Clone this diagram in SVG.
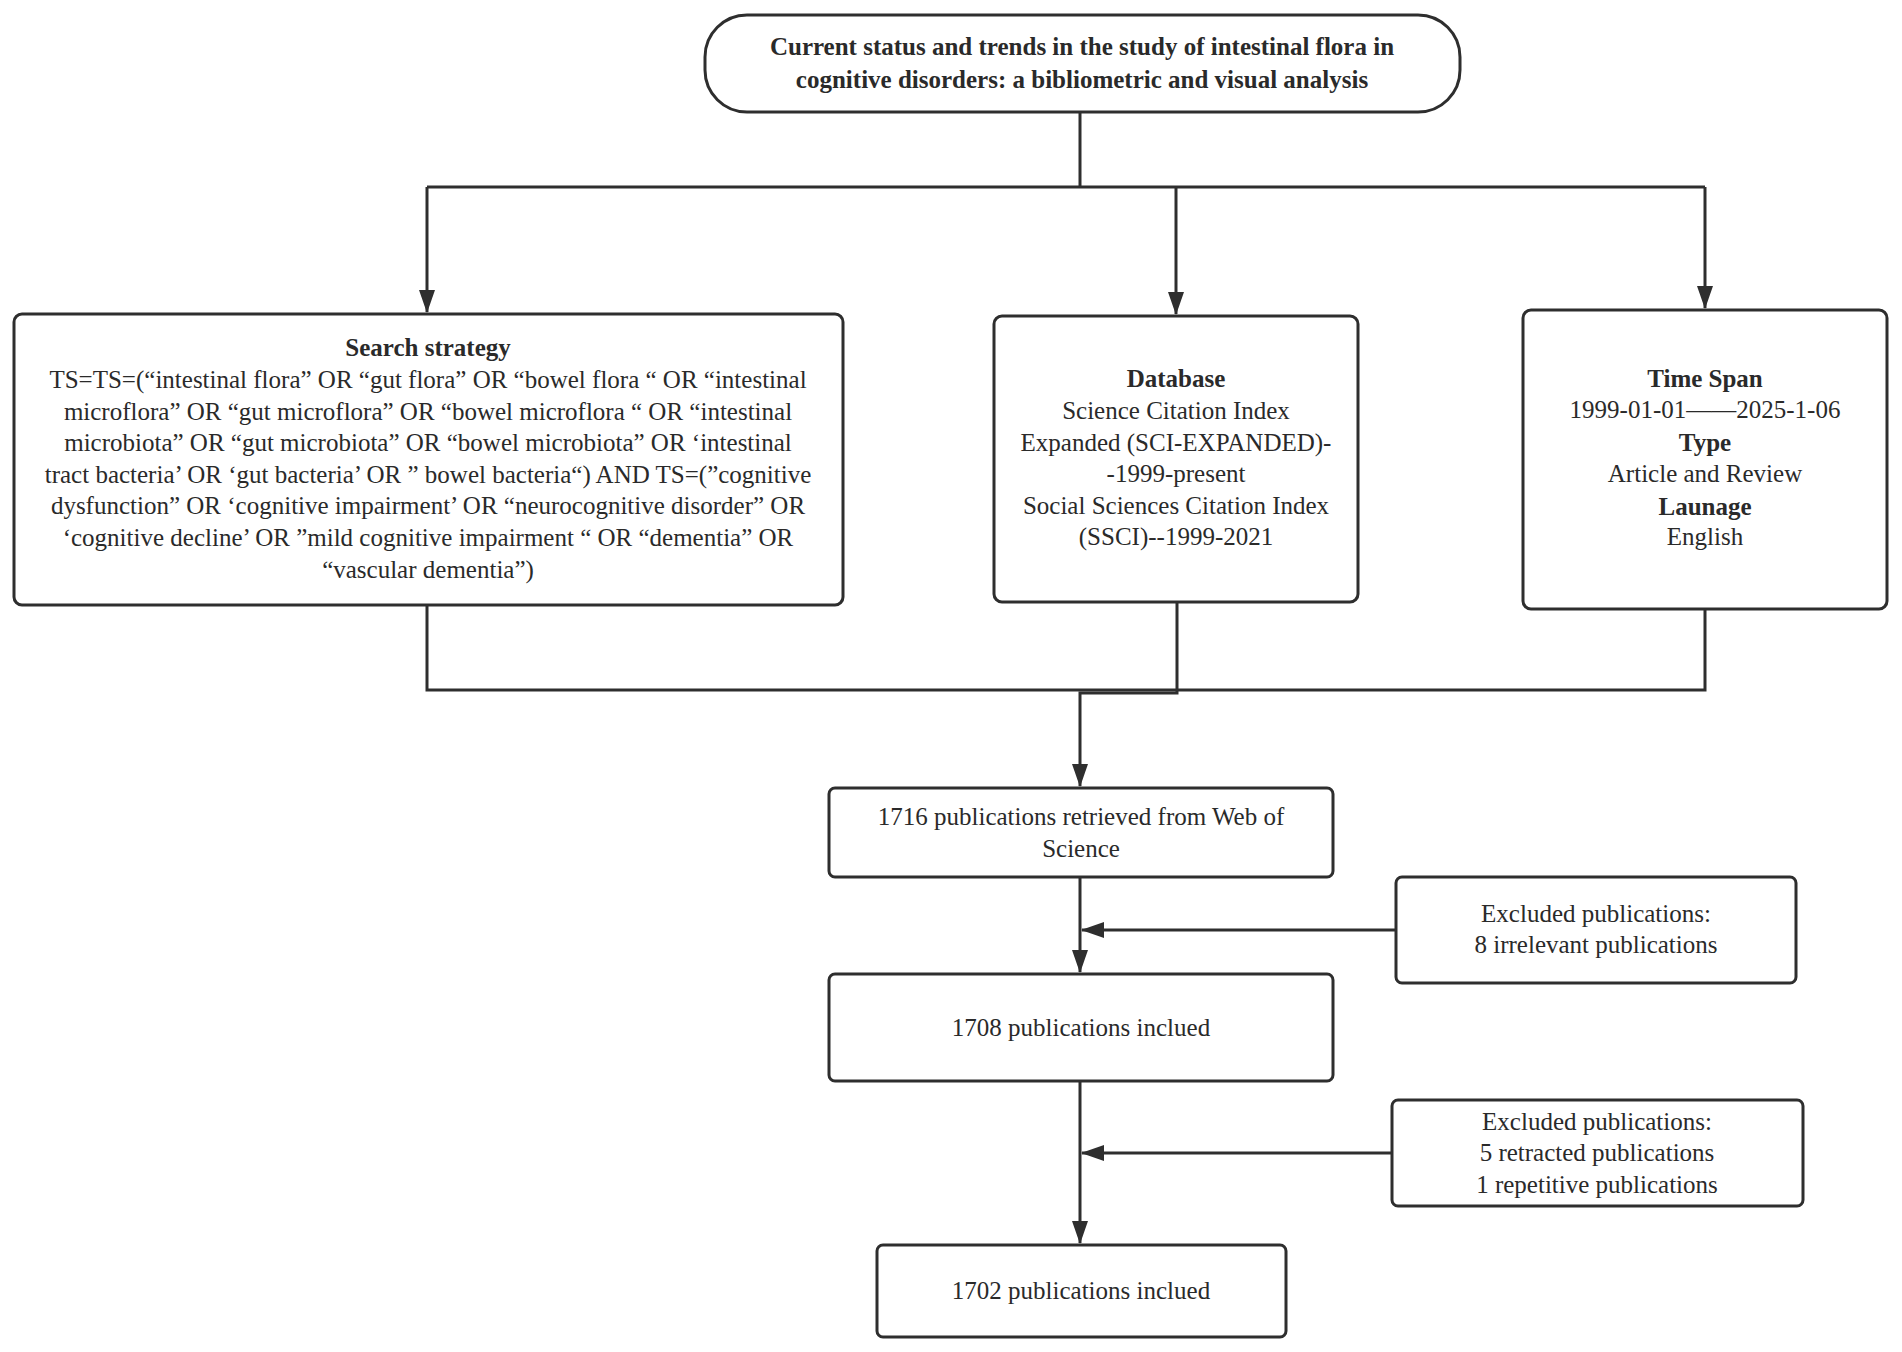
<svg xmlns="http://www.w3.org/2000/svg" width="1902" height="1352" viewBox="0 0 1902 1352">
<defs>
<marker id="arr" markerUnits="userSpaceOnUse" markerWidth="24" markerHeight="18" refX="22" refY="8" orient="auto">
<path d="M0,0 L23,8 L0,16 Z" fill="#2e2e2e"/>
</marker>
<style>
.box{fill:#fff;stroke:#2e2e2e;stroke-width:3}
.ln{fill:none;stroke:#2e2e2e;stroke-width:3}
.t{font-family:"Liberation Serif","Times New Roman",serif;font-size:25px;fill:#2a2a2a;text-anchor:middle}
.b{font-weight:bold}
</style>
</defs>
<rect width="1902" height="1352" fill="#fff"/>
<g id="connectors">
<path class="ln" d="M1080,112 V187"/>
<path class="ln" d="M427,187 H1705"/>
<path class="ln" d="M427,187 V312" marker-end="url(#arr)"/>
<path class="ln" d="M1176,187 V314" marker-end="url(#arr)"/>
<path class="ln" d="M1705,187 V308" marker-end="url(#arr)"/>
<path class="ln" d="M427,605 V690 H1705 V609"/>
<path class="ln" d="M1177,602 V693 H1080 V786" marker-end="url(#arr)"/>
<path class="ln" d="M1080,877 V972" marker-end="url(#arr)"/>
<path class="ln" d="M1396,930 H1082" marker-end="url(#arr)"/>
<path class="ln" d="M1080,1081 V1243" marker-end="url(#arr)"/>
<path class="ln" d="M1392,1153 H1082" marker-end="url(#arr)"/>
</g>
<g id="title">
<rect class="box" x="705" y="15" width="755" height="97" rx="42" ry="42"/>
<text class="t b" x="1082" y="55">Current status and trends in the study of intestinal flora in</text>
<text class="t b" x="1082" y="88">cognitive disorders: a bibliometric and visual analysis</text>
</g>
<g id="search">
<rect class="box" x="14" y="314" width="829" height="291" rx="8" ry="8"/>
<text class="t b" x="428" y="356">Search strategy</text>
<text class="t" x="428" y="388">TS=TS=(“intestinal flora” OR “gut flora” OR “bowel flora “ OR “intestinal</text>
<text class="t" x="428" y="420">microflora” OR “gut microflora” OR “bowel microflora “ OR “intestinal</text>
<text class="t" x="428" y="451">microbiota” OR “gut microbiota” OR “bowel microbiota” OR ‘intestinal</text>
<text class="t" x="428" y="483">tract bacteria’ OR ‘gut bacteria’ OR ” bowel bacteria“) AND TS=(”cognitive</text>
<text class="t" x="428" y="514">dysfunction” OR ‘cognitive impairment’ OR “neurocognitive disorder” OR</text>
<text class="t" x="428" y="546">‘cognitive decline’ OR ”mild cognitive impairment “ OR “dementia” OR</text>
<text class="t" x="428" y="578">“vascular dementia”)</text>
</g>
<g id="database">
<rect class="box" x="994" y="316" width="364" height="286" rx="8" ry="8"/>
<text class="t b" x="1176" y="387">Database</text>
<text class="t" x="1176" y="419">Science Citation Index</text>
<text class="t" x="1176" y="451">Expanded (SCI-EXPANDED)-</text>
<text class="t" x="1176" y="482">-1999-present</text>
<text class="t" x="1176" y="514">Social Sciences Citation Index</text>
<text class="t" x="1176" y="545">(SSCI)--1999-2021</text>
</g>
<g id="timespan">
<rect class="box" x="1523" y="310" width="364" height="299" rx="8" ry="8"/>
<text class="t b" x="1705" y="387">Time Span</text>
<text class="t" x="1705" y="418">1999-01-01——2025-1-06</text>
<text class="t b" x="1705" y="451">Type</text>
<text class="t" x="1705" y="482">Article and Review</text>
<text class="t b" x="1705" y="515">Launage</text>
<text class="t" x="1705" y="545">English</text>
</g>
<g id="retrieved">
<rect class="box" x="829" y="788" width="504" height="89" rx="6" ry="6"/>
<text class="t" x="1081" y="825">1716 publications retrieved from Web of</text>
<text class="t" x="1081" y="857">Science</text>
</g>
<g id="excluded1">
<rect class="box" x="1396" y="877" width="400" height="106" rx="6" ry="6"/>
<text class="t" x="1596" y="922">Excluded publications:</text>
<text class="t" x="1596" y="953">8 irrelevant publications</text>
</g>
<g id="included1708">
<rect class="box" x="829" y="974" width="504" height="107" rx="6" ry="6"/>
<text class="t" x="1081" y="1036">1708 publications inclued</text>
</g>
<g id="excluded2">
<rect class="box" x="1392" y="1100" width="411" height="106" rx="6" ry="6"/>
<text class="t" x="1597" y="1130">Excluded publications:</text>
<text class="t" x="1597" y="1161">5 retracted publications</text>
<text class="t" x="1597" y="1193">1 repetitive publications</text>
</g>
<g id="included1702">
<rect class="box" x="877" y="1245" width="409" height="92" rx="6" ry="6"/>
<text class="t" x="1081" y="1299">1702 publications inclued</text>
</g>
</svg>
